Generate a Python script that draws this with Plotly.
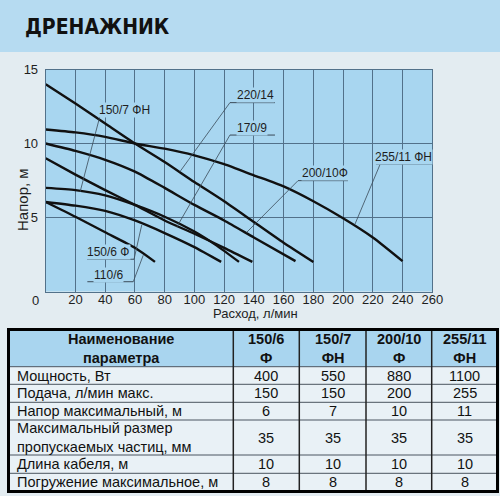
import plotly.graph_objects as go

W, H = 500, 496

# ---------------- data ----------------
flow_ticks = [20, 40, 60, 80, 100, 120, 140, 160, 180, 200, 220, 240, 260]
head_ticks = [5, 10, 15]

q_110_6 = [0, 20, 40, 60, 73.5]
h_110_6 = [6.05, 5.05, 4.0, 2.95, 2.0]
q_150_6 = [0, 20, 40, 60, 80, 100, 118]
h_150_6 = [6.05, 5.8, 5.45, 4.8, 3.95, 3.0, 2.0]
q_150_7 = [0, 20, 40, 60, 80, 100, 115, 130]
h_150_7 = [7.0, 6.85, 6.5, 5.85, 5.05, 4.05, 3.1, 2.0]
q_170_9 = [0, 20, 40, 60, 80, 100, 120, 139]
h_170_9 = [9.0, 7.9, 6.85, 5.85, 4.8, 3.9, 2.95, 2.0]
q_200_10 = [0, 20, 40, 60, 80, 100, 120, 140, 168]
h_200_10 = [10.0, 9.5, 8.9, 8.1, 7.0, 5.85, 4.8, 3.65, 2.05]
q_220_14 = [0, 20, 40, 60, 80, 100, 120, 140, 160, 180]
h_220_14 = [14.0, 12.7, 11.35, 10.0, 8.75, 7.4, 6.1, 4.7, 3.3, 2.0]
q_255_11 = [0, 20, 40, 60, 80, 100, 120, 140, 160, 180, 200, 220, 240]
h_255_11 = [10.95, 10.75, 10.45, 10.0, 9.65, 9.2, 8.6, 7.85, 7.1, 6.1, 4.95, 3.65, 2.05]

curve_names = ["110/6", "150/6 Ф", "150/7 ФН", "170/9", "200/10Ф", "220/14", "255/11 ФН"]
curve_q = [q_110_6, q_150_6, q_150_7, q_170_9, q_200_10, q_220_14, q_255_11]
curve_h = [h_110_6, h_150_6, h_150_7, h_170_9, h_200_10, h_220_14, h_255_11]

header_first = "Наименование<br>параметра"
param_names = ["Мощность, Вт", "Подача, л/мин макс.", "Напор максимальный, м",
               "Максимальный размер<br>пропускаемых частиц, мм",
               "Длина кабеля, м", "Погружение максимальное, м"]
models = ["150/6<br>Ф", "150/7<br>ФН", "200/10<br>Ф", "255/11<br>ФН"]
vals_150_6 = [400, 150, 6, 35, 10, 8]
vals_150_7 = [550, 150, 7, 35, 10, 8]
vals_200_10 = [880, 200, 10, 35, 10, 8]
vals_255_11 = [1100, 255, 11, 35, 10, 8]
model_values = [vals_150_6, vals_150_7, vals_200_10, vals_255_11]

# ---------------- styling / layout ----------------
FONT = "Liberation Sans, Arial, sans-serif"
PAGE_BG = "#e3ecf1"
BAND_BG = "#b6dbf1"
PLOT_BG = "#a8d6f0"
GRID = "#52718a"
TXT = "#1e1e1e"
HEAD_BG = "#a9d5ef"
BODY_BG = "#e9f1f6"

def pxx(px):
    return px / W

def pxy(py):
    return 1 - py / H

fig = go.Figure()

for name, q, h in zip(curve_names, curve_q, curve_h):
    fig.add_trace(go.Scatter(x=q, y=h, mode="lines", name=name,
                             line=dict(color="#111111", width=2.4, shape="spline", smoothing=0.6),
                             hoverinfo="skip", showlegend=False))

# label placement (data coords): text center, underline, leader line
labels = [
    ("150/7 ФН", 53.3, 12.26, 36.3, 70.1, 11.86, 36.5, 11.86, 23.1, 6.72),
    ("220/14", 140.8, 13.28, 123.9, 154.2, 12.76, 123.9, 12.76, 90.3, 8.1),
    ("170/9", 138.5, 11.07, 123.9, 154.2, 10.57, 123.9, 10.57, 88.1, 4.35),
    ("200/10Ф", 187.8, 7.99, 169.7, 203.3, 7.49, 169.7, 7.49, 135.2, 4.0),
    ("255/11 ФН", 240.5, 9.11, 222.1, 259.8, 8.61, 224.8, 8.57, 208.0, 4.55),
    ("150/6 Ф", 42.1, 2.69, 27.8, 59.4, 2.18, 59.4, 2.18, 64.6, 4.5),
    ("110/6", 42.4, 1.11, 28.0, 58.9, 0.66, 58.9, 0.66, 65.6, 2.45),
]

shapes = []
annotations = []
shapes.append(dict(type="rect", xref="paper", yref="paper", x0=0, x1=1, y0=pxy(52), y1=1,
                   fillcolor=BAND_BG, line=dict(width=0), layer="below"))
for (t, tx, ty, ux0, ux1, uy, lx0, ly0, lx1, ly1) in labels:
    annotations.append(dict(x=tx, y=ty, xref="x", yref="y", text=t, showarrow=False,
                            xanchor="center", yanchor="middle",
                            font=dict(family=FONT, size=12, color=TXT), bgcolor=PLOT_BG,
                            borderpad=0))
    shapes.append(dict(type="line", xref="x", yref="y", x0=ux0, x1=ux1, y0=uy, y1=uy,
                       line=dict(color="#3a4a58", width=1)))
    shapes.append(dict(type="line", xref="x", yref="y", x0=lx0, x1=lx1, y0=ly0, y1=ly1,
                       line=dict(color="#3a4a58", width=0.8)))

annotations += [
    dict(x=pxx(23), y=pxy(27), xref="paper", yref="paper", xanchor="left", yanchor="middle",
         text="<b>ДРЕНАЖНИК</b>", showarrow=False,
         font=dict(family="DejaVu Sans Condensed, Liberation Sans", size=21, color="#111111")),
    dict(x=pxx(35), y=pxy(300), xref="paper", yref="paper", text="0", showarrow=False,
         xanchor="center", yanchor="middle", font=dict(family=FONT, size=13, color=TXT)),
    dict(x=pxx(22), y=pxy(200), xref="paper", yref="paper", text="Напор, м", textangle=-90,
         xanchor="center", yanchor="middle",
         showarrow=False, font=dict(family=FONT, size=15, color=TXT)),
    dict(x=pxx(255), y=pxy(313), xref="paper", yref="paper", text="Расход, л/мин",
         xanchor="center", yanchor="middle",
         showarrow=False, font=dict(family=FONT, size=13, color=TXT)),
]

# ---------------- table (drawn from the arrays above) ----------------
col_edges = [8.5, 233.3, 299.3, 366.0, 431.7, 497.5]
row_edges = [329.5, 366.7, 384.3, 402.3, 420.0, 455.0, 473.3, 491.5]

shapes.append(dict(type="rect", xref="paper", yref="paper", x0=pxx(col_edges[0]), x1=pxx(col_edges[-1]),
                   y0=pxy(row_edges[1]), y1=pxy(row_edges[0]), fillcolor=HEAD_BG, line=dict(width=0)))
shapes.append(dict(type="rect", xref="paper", yref="paper", x0=pxx(col_edges[0]), x1=pxx(col_edges[-1]),
                   y0=pxy(row_edges[-1]), y1=pxy(row_edges[1]), fillcolor=BODY_BG, line=dict(width=0)))
for ry in row_edges[1:-1]:
    shapes.append(dict(type="line", xref="paper", yref="paper", x0=pxx(col_edges[0]), x1=pxx(col_edges[-1]),
                       y0=pxy(ry), y1=pxy(ry), line=dict(color="#4a5560", width=1)))
for cx in col_edges[1:-1]:
    shapes.append(dict(type="line", xref="paper", yref="paper", x0=pxx(cx), x1=pxx(cx),
                       y0=pxy(row_edges[-1]), y1=pxy(row_edges[0]), line=dict(color="#222222", width=1.5)))
shapes.append(dict(type="rect", xref="paper", yref="paper", x0=pxx(col_edges[0]), x1=pxx(col_edges[-1]),
                   y0=pxy(row_edges[-1]), y1=pxy(row_edges[0]), line=dict(color="#000000", width=3)))

TFONT = dict(family=FONT, size=14.5, color="#111111")
header_texts = [header_first] + models
head_cy = (row_edges[0] + row_edges[1]) / 2
for c, ht in enumerate(header_texts):
    cx = (col_edges[c] + col_edges[c + 1]) / 2
    annotations.append(dict(x=pxx(cx), y=pxy(head_cy), xref="paper", yref="paper",
                            text="<b>" + ht + "</b>", showarrow=False, xanchor="center",
                            yanchor="middle", font=TFONT))
columns = [param_names] + model_values
for c, col in enumerate(columns):
    for r, v in enumerate(col):
        cy = (row_edges[r + 1] + row_edges[r + 2]) / 2
        if c == 0:
            annotations.append(dict(x=pxx(col_edges[0] + 6.5), y=pxy(cy), xref="paper", yref="paper",
                                    text=str(v), showarrow=False, xanchor="left", align="left",
                                    yanchor="middle", font=TFONT))
        else:
            cx = (col_edges[c] + col_edges[c + 1]) / 2
            annotations.append(dict(x=pxx(cx), y=pxy(cy), xref="paper", yref="paper",
                                    text=str(v), showarrow=False, xanchor="center",
                                    yanchor="middle", font=TFONT))

fig.update_layout(
    width=W, height=H, margin=dict(l=0, r=0, t=0, b=0, autoexpand=False),
    paper_bgcolor=PAGE_BG, plot_bgcolor=PLOT_BG,
    shapes=shapes, annotations=annotations, showlegend=False,
    xaxis=dict(domain=[pxx(45.7), pxx(432.3)], range=[0, 260], tickvals=flow_ticks,
               automargin=False,
               showgrid=True, gridcolor=GRID, gridwidth=1, zeroline=False,
               showline=True, mirror=True, linecolor=GRID, linewidth=1,
               ticks="", ticklen=0, ticklabelstandoff=-4, tickfont=dict(family=FONT, size=13, color=TXT)),
    yaxis=dict(domain=[pxy(291.5), pxy(69.5)], range=[0, 15], tickvals=head_ticks,
               automargin=False,
               showgrid=True, gridcolor=GRID, gridwidth=1, zeroline=False,
               showline=True, mirror=True, linecolor=GRID, linewidth=1,
               ticks="", ticklen=0, ticklabelstandoff=4, tickfont=dict(family=FONT, size=13, color=TXT)),
)

fig.write_html("out.html", config={"displayModeBar": False},
               post_script="document.body.style.margin='0px';")
